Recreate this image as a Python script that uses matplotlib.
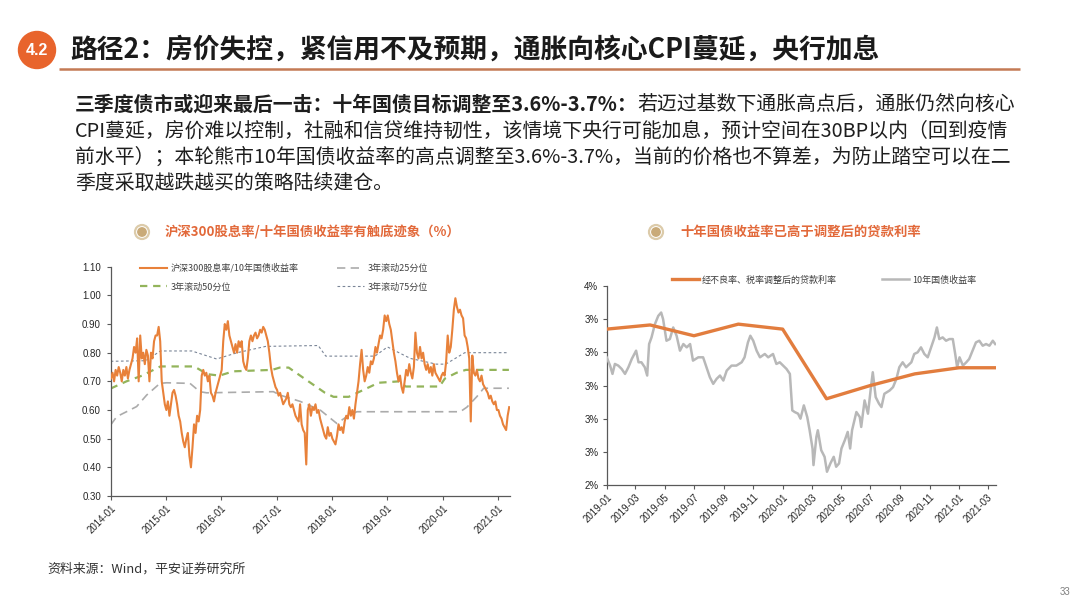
import matplotlib
matplotlib.use('Agg')
import matplotlib.pyplot as plt
import matplotlib.dates as mdates
from matplotlib.patches import Circle
from matplotlib.ticker import FuncFormatter, MultipleLocator, FixedLocator
import pandas as pd

plt.rcParams['font.family'] = ['Noto Sans CJK SC', 'DejaVu Sans']

W, H = 1080, 608

# ---------------- data: left chart (CSI300 dividend yield / 10Y CGB yield) ----------------
ratio_2014 = [0.71, 0.73, 0.70, 0.74, 0.72, 0.75, 0.73, 0.70, 0.74, 0.72, 0.75, 0.71,
              0.74, 0.76, 0.78, 0.82, 0.80, 0.85, 0.70, 0.86, 0.78, 0.80, 0.76, 0.81,
              0.79, 0.70, 0.80, 0.78, 0.84, 0.86, 0.86, 0.89, 0.84, 0.70, 0.66, 0.62]
ratio_2015 = [0.60, 0.63, 0.58, 0.62, 0.66, 0.67, 0.65, 0.62, 0.58, 0.56, 0.52, 0.49,
              0.47, 0.50, 0.52, 0.44, 0.40, 0.47, 0.55, 0.52, 0.58, 0.56, 0.60, 0.72,
              0.74, 0.72, 0.73, 0.70, 0.72, 0.66, 0.65, 0.63, 0.66, 0.68, 0.70, 0.72]
ratio_2016 = [0.74, 0.84, 0.90, 0.88, 0.91, 0.86, 0.84, 0.82, 0.80, 0.83, 0.80, 0.84,
              0.82, 0.84, 0.77, 0.75, 0.74, 0.78, 0.84, 0.86, 0.84, 0.86, 0.87, 0.85,
              0.86, 0.88, 0.87, 0.89, 0.88, 0.86, 0.84, 0.80, 0.75, 0.72, 0.70, 0.68]
ratio_2017 = [0.67, 0.65, 0.66, 0.64, 0.62, 0.63, 0.64, 0.66, 0.62, 0.61, 0.62, 0.60,
              0.58, 0.57, 0.56, 0.62, 0.55, 0.53, 0.52, 0.41, 0.60, 0.62, 0.58, 0.61,
              0.60, 0.62, 0.59, 0.60, 0.57, 0.55, 0.53, 0.51, 0.50, 0.54, 0.51, 0.52]
ratio_2018 = [0.50, 0.49, 0.48, 0.51, 0.55, 0.53, 0.54, 0.52, 0.56, 0.58, 0.57, 0.61,
              0.58, 0.60, 0.57, 0.62, 0.66, 0.70, 0.76, 0.81, 0.74, 0.70, 0.72, 0.75,
              0.73, 0.77, 0.76, 0.78, 0.82, 0.80, 0.83, 0.86, 0.85, 0.88, 0.93, 0.91]
ratio_2019 = [0.93, 0.90, 0.88, 0.84, 0.80, 0.77, 0.73, 0.70, 0.72, 0.68, 0.66, 0.70,
              0.74, 0.72, 0.76, 0.73, 0.71, 0.75, 0.87, 0.80, 0.78, 0.82, 0.78, 0.80,
              0.76, 0.74, 0.76, 0.73, 0.75, 0.72, 0.76, 0.73, 0.72, 0.71, 0.70, 0.72]
ratio_2020 = [0.73, 0.72, 0.77, 0.86, 0.80, 0.82, 0.88, 0.95, 0.99, 0.96, 0.94, 0.95,
              0.93, 0.92, 0.86, 0.85, 0.82, 0.78, 0.56, 0.79, 0.73, 0.72, 0.74, 0.71,
              0.70, 0.72, 0.69, 0.68, 0.67, 0.66, 0.64, 0.65, 0.63, 0.62, 0.63, 0.60]
ratio_2021 = [0.60, 0.58, 0.57, 0.55, 0.54, 0.53, 0.58, 0.61]
ratio_values = (ratio_2014 + ratio_2015 + ratio_2016 + ratio_2017 + ratio_2018
                + ratio_2019 + ratio_2020 + ratio_2021)
ratio_dates = pd.date_range('2014-01-03', '2021-03-14', periods=len(ratio_values))

p25_dates = ['2014-01-01', '2014-02-10', '2014-04-15', '2014-06-21', '2014-08-26', '2014-11-22',
             '2015-01-05', '2015-06-08', '2015-08-12', '2015-09-26', '2016-12-09', '2017-01-23',
             '2017-06-04', '2017-10-14', '2018-02-01', '2018-04-08', '2018-06-13', '2020-04-25',
             '2020-06-08', '2020-08-13', '2020-09-27', '2021-03-12']
p25_values = [0.548, 0.577, 0.594, 0.612, 0.652, 0.693, 0.695, 0.693, 0.664, 0.660, 0.664, 0.652,
              0.630, 0.600, 0.553, 0.577, 0.594, 0.594, 0.610, 0.647, 0.676, 0.676]

p50_dates = ['2014-01-01', '2014-04-15', '2014-07-27', '2014-11-25', '2015-07-06', '2015-10-01',
             '2015-12-20', '2016-03-20', '2016-12-01', '2017-01-20', '2017-03-20', '2017-07-01',
             '2017-11-15', '2018-01-10', '2018-04-20', '2018-09-20', '2018-11-01', '2019-03-20',
             '2019-05-01', '2019-12-10', '2020-01-15', '2020-04-01', '2020-06-01', '2021-03-12']
p50_values = [0.675, 0.700, 0.720, 0.752, 0.752, 0.725, 0.720, 0.735, 0.740, 0.748, 0.748, 0.710,
              0.660, 0.646, 0.646, 0.684, 0.695, 0.700, 0.682, 0.682, 0.710, 0.730, 0.740, 0.740]

p75_dates = ['2014-01-01', '2014-08-20', '2014-11-25', '2015-06-20', '2015-12-01', '2016-04-15',
             '2016-10-20', '2017-10-01', '2017-11-20', '2018-10-10', '2019-01-01', '2019-06-01',
             '2019-11-20', '2020-01-20', '2020-05-25', '2021-03-12']
p75_values = [0.770, 0.772, 0.806, 0.806, 0.778, 0.800, 0.822, 0.825, 0.788, 0.788, 0.820, 0.780,
              0.760, 0.760, 0.800, 0.800]

left_legend = ['沪深300股息率/10年国债收益率', '3年滚动50分位', '3年滚动25分位', '3年滚动75分位']
left_yticks = [0.30, 0.40, 0.50, 0.60, 0.70, 0.80, 0.90, 1.00, 1.10]
left_xticks = ['2014-01', '2015-01', '2016-01', '2017-01', '2018-01', '2019-01', '2020-01', '2021-01']

# ---------------- data: right chart ----------------
loan_dates = ['2019-01-01', '2019-04-01', '2019-07-01', '2019-10-01', '2020-01-01', '2020-04-01',
              '2020-07-01', '2020-10-01', '2021-01-01', '2021-03-17']
loan_values = [3.340, 3.365, 3.300, 3.370, 3.340, 2.920, 3.000, 3.070, 3.107, 3.107]

cgb_dates = ['2019-01-01', '2019-01-08', '2019-01-13', '2019-01-18', '2019-01-25', '2019-02-01',
             '2019-02-08', '2019-02-15', '2019-02-22', '2019-03-03', '2019-03-08', '2019-03-14',
             '2019-03-21', '2019-03-26', '2019-03-30', '2019-04-04', '2019-04-11', '2019-04-18',
             '2019-04-24', '2019-04-28', '2019-05-05', '2019-05-12', '2019-05-19', '2019-05-26',
             '2019-06-02', '2019-06-09', '2019-06-16', '2019-06-23', '2019-06-29', '2019-07-10',
             '2019-07-20', '2019-07-27', '2019-08-03', '2019-08-10', '2019-08-17', '2019-08-24',
             '2019-08-31', '2019-09-07', '2019-09-17', '2019-09-27', '2019-10-08', '2019-10-14',
             '2019-10-21', '2019-10-26', '2019-11-01', '2019-11-08', '2019-11-15', '2019-11-25',
             '2019-12-02', '2019-12-12', '2019-12-19', '2019-12-26', '2020-01-02', '2020-01-09',
             '2020-01-16', '2020-01-21', '2020-01-26', '2020-02-02', '2020-02-07', '2020-02-14',
             '2020-02-21', '2020-02-26', '2020-03-03', '2020-03-05', '2020-03-11', '2020-03-14',
             '2020-03-21', '2020-03-28', '2020-04-02', '2020-04-09', '2020-04-16', '2020-04-21',
             '2020-04-27', '2020-05-02', '2020-05-09', '2020-05-15', '2020-05-20', '2020-05-24',
             '2020-06-02', '2020-06-09', '2020-06-12', '2020-06-19', '2020-06-26', '2020-07-03',
             '2020-07-06', '2020-07-12', '2020-07-19', '2020-07-24', '2020-07-30', '2020-08-10',
             '2020-08-17', '2020-08-24', '2020-08-30', '2020-09-06', '2020-09-13', '2020-09-24',
             '2020-09-30', '2020-10-07', '2020-10-14', '2020-10-21', '2020-10-28', '2020-11-04',
             '2020-11-11', '2020-11-16', '2020-11-21', '2020-11-28', '2020-12-05', '2020-12-12',
             '2020-12-19', '2020-12-24', '2020-12-28', '2021-01-02', '2021-01-09', '2021-01-16',
             '2021-01-22', '2021-01-29', '2021-02-05', '2021-02-12', '2021-02-19', '2021-02-26',
             '2021-03-05', '2021-03-12', '2021-03-17']
cgb_values = [3.17, 3.12, 3.07, 3.13, 3.12, 3.10, 3.07, 3.11, 3.16, 3.21,
              3.14, 3.14, 3.11, 3.06, 3.25, 3.29, 3.37, 3.42, 3.44, 3.40,
              3.27, 3.28, 3.35, 3.30, 3.21, 3.25, 3.23, 3.25, 3.15, 3.17,
              3.17, 3.11, 3.05, 3.01, 3.04, 3.06, 3.03, 3.09, 3.12, 3.12,
              3.14, 3.17, 3.26, 3.30, 3.27, 3.21, 3.17, 3.19, 3.17, 3.19,
              3.13, 3.14, 3.12, 3.10, 3.07, 2.85, 2.84, 2.83, 2.80, 2.88,
              2.81, 2.73, 2.62, 2.52, 2.69, 2.73, 2.61, 2.57, 2.48, 2.53,
              2.57, 2.51, 2.53, 2.62, 2.67, 2.72, 2.62, 2.73, 2.84, 2.81,
              2.75, 2.91, 2.83, 3.01, 3.08, 2.93, 2.89, 2.87, 2.95, 2.97,
              2.99, 3.04, 3.11, 3.14, 3.11, 3.14, 3.19, 3.20, 3.23, 3.19,
              3.17, 3.23, 3.29, 3.35, 3.28, 3.29, 3.27, 3.28, 3.28, 3.19,
              3.11, 3.17, 3.12, 3.14, 3.16, 3.21, 3.26, 3.27, 3.24, 3.25,
              3.24, 3.27, 3.25]
right_legend = ['经不良率、税率调整后的贷款利率', '10年国债收益率']
right_yticks = [2.4, 2.6, 2.8, 3.0, 3.2, 3.4, 3.6]
right_xticks = ['2019-01', '2019-03', '2019-05', '2019-07', '2019-09', '2019-11', '2020-01',
                '2020-03', '2020-05', '2020-07', '2020-09', '2020-11', '2021-01', '2021-03']

# ---------------- texts ----------------
page_title = '路径2：房价失控，紧信用不及预期，通胀向核心CPI蔓延，央行加息'
para_bold = '三季度债市或迎来最后一击：十年国债目标调整至3.6%-3.7%：'
para_l1 = '若迈过基数下通胀高点后，通胀仍然向核心'
para_l2 = 'CPI蔓延，房价难以控制，社融和信贷维持韧性，该情境下央行可能加息，预计空间在30BP以内（回到疫情'
para_l3 = '前水平）；本轮熊市10年国债收益率的高点调整至3.6%-3.7%，当前的价格也不算差，为防止踏空可以在二'
para_l4 = '季度采取越跌越买的策略陆续建仓。'
left_title = '沪深300股息率/十年国债收益率有触底迹象（%）'
right_title = '十年国债收益率已高于调整后的贷款利率'
source_text = '资料来源：Wind，平安证券研究所'
page_no = '33'

# ---------------- figure ----------------
fig = plt.figure(figsize=(W / 100, H / 100), dpi=100)
fig.patch.set_facecolor('white')

bg = fig.add_axes([0, 0, 1, 1])
bg.set_xlim(0, W)
bg.set_ylim(H, 0)
bg.axis('off')

ORANGE_BADGE = '#E8642C'
bg.add_patch(Circle((37, 50), 18.5, color=ORANGE_BADGE, zorder=2))
bg.text(37, 50.5, '4.2', color='white', fontsize=11.5, fontweight='bold', ha='center', va='center',
        family=['Liberation Sans', 'DejaVu Sans'], zorder=3)
bg.text(70, 50, page_title, fontsize=19.3, fontweight='bold', ha='left', va='center', color='#1a1a1a')
bg.plot([59, 1020], [68.5, 68.5], color='#C47A55', lw=1.8, solid_capstyle='butt')

PF = 14.3
TXT = '#1e1e1e'
t1 = bg.text(75, 104, para_bold, fontsize=PF, fontweight='bold', ha='left', va='center', color=TXT)
bg.annotate(para_l1, xy=(1, 0.5), xycoords=t1, fontsize=PF, ha='left', va='center', color=TXT)
bg.text(75, 131, para_l2, fontsize=PF, ha='left', va='center', color=TXT)
bg.text(75, 157, para_l3, fontsize=PF, ha='left', va='center', color=TXT)
bg.text(75, 183, para_l4, fontsize=PF, ha='left', va='center', color=TXT)

TITLE_C = '#E2693A'
for cx, tx, title in [(142, 165, left_title), (656, 680, right_title)]:
    bg.add_patch(Circle((cx, 232), 7.0, facecolor='white', edgecolor='#DCCBAA', lw=1.6))
    bg.add_patch(Circle((cx, 232), 4.2, color='#C9AA78'))
    bg.text(tx, 232, title, fontsize=9.6, fontweight='bold', color=TITLE_C, ha='left', va='center')

bg.text(47, 569, source_text, fontsize=9.3, color='#333333', ha='left', va='center')
bg.text(1065, 592, page_no, fontsize=7, color='#808080', ha='center', va='center',
        family=['Liberation Sans', 'DejaVu Sans'])

SPINE = '#595959'
TICKFONT = ['Liberation Sans', 'DejaVu Sans']

def style_axes(ax):
    for s in ['top', 'right']:
        ax.spines[s].set_visible(False)
    for s in ['left', 'bottom']:
        ax.spines[s].set_color(SPINE)
        ax.spines[s].set_linewidth(0.9)
    ax.tick_params(axis='both', length=3, width=0.8, color=SPINE, labelsize=7,
                   labelcolor='#262626', labelfontfamily=TICKFONT, pad=2)
    ax.set_facecolor('none')

# ---------------- left chart ----------------
axL = fig.add_axes([110.7 / W, 1 - 496 / H, (509.5 - 110.7) / W, (496 - 266.7) / H])
style_axes(axL)
l25, = axL.plot(pd.to_datetime(p25_dates), p25_values, color='#ABABAB', lw=1.2, dashes=(5, 3.2))
l50, = axL.plot(pd.to_datetime(p50_dates), p50_values, color='#93B45B', lw=1.6, dashes=(3.3, 2.6))
l75, = axL.plot(pd.to_datetime(p75_dates), p75_values, color='#7A8597', lw=0.8, dashes=(2.4, 2.2))
lr, = axL.plot(ratio_dates, ratio_values, color='#E8813A', lw=1.5, zorder=5)
axL.set_ylim(0.30, 1.10)
axL.set_xlim(pd.Timestamp('2014-01-01'), pd.Timestamp('2021-03-16'))
axL.yaxis.set_major_locator(FixedLocator(left_yticks))
axL.yaxis.set_major_formatter(FuncFormatter(lambda v, p: f'{v:.2f}'))
axL.set_xticks(pd.to_datetime(left_xticks))
axL.set_xticklabels(left_xticks, rotation=45, ha='right', va='top', rotation_mode='anchor')
axL.tick_params(axis='y', pad=4)
legL = axL.legend([lr, l50, l25, l75], left_legend, ncol=2, loc='upper left',
                  bbox_to_anchor=(0.062, 1.035), frameon=False, handlelength=3.0,
                  handletextpad=0.35, columnspacing=4.3, labelspacing=1.05, borderpad=0,
                  prop={'family': ['Noto Sans CJK SC', 'DejaVu Sans'], 'size': 6.5})
for t in legL.get_texts():
    t.set_color('#404040')

# ---------------- right chart ----------------
axR = fig.add_axes([606.7 / W, 1 - 485 / H, (995.7 - 606.7) / W, (485 - 286) / H])
style_axes(axR)
lg, = axR.plot(pd.to_datetime(cgb_dates), cgb_values, color='#B8B8B8', lw=1.8, zorder=3)
lo, = axR.plot(pd.to_datetime(loan_dates), loan_values, color='#E27D3E', lw=2.4, zorder=4)
axR.set_ylim(2.4, 3.6)
axR.set_xlim(pd.Timestamp('2019-01-01'), pd.Timestamp('2021-03-18'))
axR.yaxis.set_major_locator(FixedLocator(right_yticks))
axR.yaxis.set_major_formatter(FuncFormatter(lambda v, p: f'{v:.0f}%'))
axR.set_xticks(pd.to_datetime(right_xticks))
axR.set_xticklabels(right_xticks, rotation=45, ha='right', va='top', rotation_mode='anchor')
axR.tick_params(axis='y', pad=3)
legR = axR.legend([lo, lg], right_legend, ncol=2, loc='center left',
                  bbox_to_anchor=(0.155, 1.03), frameon=False, handlelength=3.0,
                  handletextpad=0.35, columnspacing=5.0, borderpad=0,
                  prop={'family': ['Noto Sans CJK SC', 'DejaVu Sans'], 'size': 6.5})
for t in legR.get_texts():
    t.set_color('#404040')

fig.savefig('out.png', dpi=100)
